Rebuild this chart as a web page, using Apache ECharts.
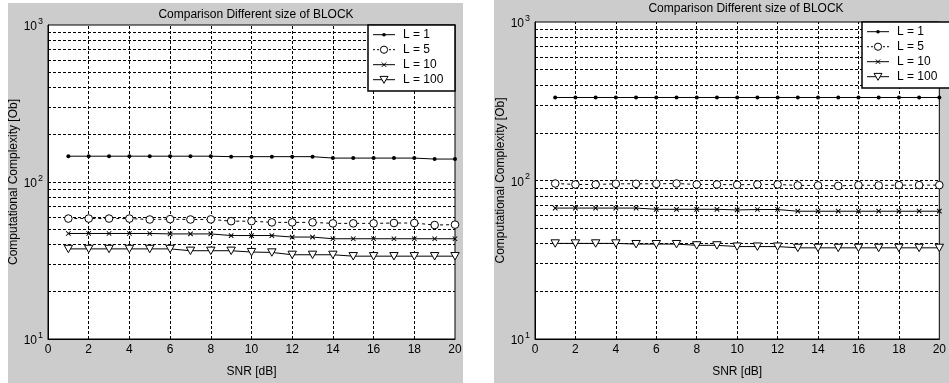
<!DOCTYPE html>
<html>
<head>
<meta charset="utf-8">
<script src="https://cdn.jsdelivr.net/npm/echarts@6/dist/echarts.min.js"></script>
<style>
  html, body { margin: 0; padding: 0; background: #fff; }
  #chart { width: 949px; height: 383px; }
</style>
</head>
<body>
<div id="chart"></div>
<script>
// SNR sweep (dB)
const snr = [1, 2, 3, 4, 5, 6, 7, 8, 9, 10, 11, 12, 13, 14, 15, 16, 17, 18, 19, 20];
const seriesNames = ['L = 1', 'L = 5', 'L = 10', 'L = 100'];

// Left panel: computational complexity per block size
const leftL1   = [146, 146, 146, 146, 146, 146, 146, 146, 145, 145, 145, 145, 145, 142, 142, 142, 142, 142, 140, 140];
const leftL5   = [58.5, 58.5, 58.5, 58.5, 57.7, 58, 57.7, 57.8, 56.3, 56.3, 55.3, 55.3, 55.3, 54.5, 54.5, 54.5, 54.8, 54.8, 53.2, 53.5];
const leftL10  = [47, 47, 47, 47, 47, 46.7, 46.7, 46.7, 45.6, 45.6, 45.6, 44.6, 44.6, 43.5, 43.5, 43.5, 43.5, 43.5, 43.5, 43.5];
const leftL100 = [37.5, 37.5, 37.5, 37.5, 37.5, 37.5, 36.5, 36.5, 36.5, 35.8, 35.6, 34.4, 34.4, 34.4, 33.7, 33.7, 33.7, 33.7, 33.7, 33.7];

// Right panel
const rightL1   = [334, 334, 334, 334, 334, 334, 334, 334, 334, 334, 334, 334, 334, 334, 334, 334, 334, 334, 334, 334];
const rightL5   = [95.7, 94.4, 94.4, 95.3, 95.3, 95.3, 95.7, 94.4, 94.4, 94, 94.4, 94.4, 93.1, 93.1, 92.5, 93.5, 93.1, 93.5, 93.5, 93.5];
const rightL10  = [67, 67, 67, 67, 67, 65.8, 65.8, 65.8, 65.8, 65.2, 65.6, 65.6, 64, 64, 64, 64, 64, 64, 64, 64];
const rightL100 = [40.1, 40.1, 40.1, 40.1, 39.7, 39.7, 39.7, 39, 39, 38.3, 38.3, 38.3, 37.6, 37.6, 37.6, 37.6, 37.6, 37.6, 37.6, 37.6];

// Grid lines: vertical at every x tick, horizontal at each log step
const xGrid = [2, 4, 6, 8, 10, 12, 14, 16, 18];
const yGrid = [20, 30, 40, 50, 60, 70, 80, 90, 100, 200, 300, 400, 500, 600, 700, 800, 900];

const titleText = 'Comparison Different size of BLOCK';
const xName = 'SNR [dB]';
const yName = 'Computational Complexity [Ob]';

const FONT = '"Liberation Sans", Arial, sans-serif';
const DASH = [3, 2];

// Markers drawn inside a 12x12 box
const SYM = {
  dot: 'path://M0,0M12,12M4,6a2,2 0 1,0 4,0a2,2 0 1,0 -4,0z',
  circle: 'path://M0,0M12,12M2.2,6a3.8,3.8 0 1,0 7.6,0a3.8,3.8 0 1,0 -7.6,0z',
  cross: 'path://M0,0M12,12M3.4,4.1L4.1,3.4L8.6,7.9L7.9,8.6z M7.9,3.4L8.6,4.1L4.1,8.6L3.4,7.9z',
  tri: 'path://M0,0M12,12M1.8,2.4L10.2,2.4L6,9.8z'
};

function pairs(ys) { return snr.map((x, i) => [x, ys[i]]); }

function makeSeries(idx, data) {
  const common = {
    type: 'line', xAxisIndex: idx, yAxisIndex: idx,
    symbolSize: 12, symbolKeepAspect: true, animation: false,
    silent: true, z: 3
  };
  return [
    Object.assign({}, common, {
      name: seriesNames[0], data: pairs(data[0]), symbol: SYM.dot,
      itemStyle: { color: '#000', borderWidth: 0 },
      lineStyle: { color: '#000', width: 1 }
    }),
    Object.assign({}, common, {
      name: seriesNames[1], data: pairs(data[1]), symbol: SYM.circle,
      itemStyle: { color: '#fff', borderColor: '#000', borderWidth: 1 },
      lineStyle: { color: '#000', width: 1, type: [3, 3] }
    }),
    Object.assign({}, common, {
      name: seriesNames[2], data: pairs(data[2]), symbol: SYM.cross,
      itemStyle: { color: '#000', borderWidth: 0 },
      lineStyle: { color: '#000', width: 1 }
    }),
    Object.assign({}, common, {
      name: seriesNames[3], data: pairs(data[3]), symbol: SYM.tri,
      itemStyle: { color: '#fff', borderColor: '#000', borderWidth: 1 },
      lineStyle: { color: '#000', width: 1 },
      markLine: {
        silent: true, symbol: 'none', animation: false, z: 1,
        label: { show: false },
        lineStyle: { color: '#000', width: 1, type: DASH },
        data: xGrid.map(v => ({ xAxis: v })).concat(yGrid.map(v => ({ yAxis: v })))
      }
    })
  ];
}

function yLabel(v) {
  const e = Math.round(Math.log10(v));
  return '{b|10}{e|' + e + '}';
}

const grids = [
  { left: 48, top: 25, width: 407, height: 322 },
  { left: 535, top: 22, width: 413, height: 325 }
];

function xAxis(idx) {
  return {
    type: 'value', gridIndex: idx, min: 0, max: 20, interval: 2,
    name: xName, nameLocation: 'middle', nameGap: 27,
    nameTextStyle: { fontFamily: FONT, fontSize: 12, color: '#000' },
    axisLine: { show: true, lineStyle: { color: '#000', width: 1 } },
    axisTick: { show: false },
    axisLabel: { fontFamily: FONT, fontSize: 12, color: '#000', margin: 5 },
    splitLine: { show: false }
  };
}

function yAxis(idx) {
  return {
    type: 'log', logBase: 10, gridIndex: idx, min: 10, max: 1000,
    name: yName, nameLocation: 'middle', nameGap: 27,
    nameTextStyle: { fontFamily: FONT, fontSize: 12, color: '#000' },
    axisLine: { show: true, lineStyle: { color: '#000', width: 1 } },
    axisTick: { show: false },
    axisLabel: {
      formatter: yLabel, margin: 5,
      rich: {
        b: { fontFamily: FONT, fontSize: 12, color: '#000', lineHeight: 16, verticalAlign: 'bottom' },
        e: { fontFamily: FONT, fontSize: 9, color: '#000', verticalAlign: 'top', padding: [0, 0, 0, 1] }
      }
    },
    splitLine: { show: false }
  };
}

// Legend box: a framed key with line sample, marker and label per series
function legendBox(x0, y0, w) {
  const els = [{
    type: 'rect', z: 100, silent: true,
    shape: { x: x0, y: y0, width: w, height: 66 },
    style: { fill: '#fff', stroke: '#000', lineWidth: 1.5 }
  }];
  const lx1 = x0 + 5, lx2 = x0 + 27, mx = x0 + 16;
  seriesNames.forEach((name, k) => {
    const cy = y0 + 9.7 + 15 * k;
    els.push({
      type: 'line', z: 101, silent: true,
      shape: { x1: lx1, y1: cy, x2: lx2, y2: cy },
      style: { stroke: '#000', lineWidth: 1, lineDash: k === 1 ? [2, 2] : null }
    });
    if (k === 0) {
      els.push({ type: 'circle', z: 102, silent: true, shape: { cx: mx, cy: cy, r: 1.8 }, style: { fill: '#000' } });
    } else if (k === 1) {
      els.push({ type: 'circle', z: 102, silent: true, shape: { cx: mx, cy: cy, r: 3.6 },
        style: { fill: '#fff', stroke: '#000', lineWidth: 1 } });
    } else if (k === 2) {
      els.push({ type: 'line', z: 102, silent: true, shape: { x1: mx - 2.2, y1: cy - 2.2, x2: mx + 2.2, y2: cy + 2.2 }, style: { stroke: '#000', lineWidth: 1 } });
      els.push({ type: 'line', z: 102, silent: true, shape: { x1: mx + 2.2, y1: cy - 2.2, x2: mx - 2.2, y2: cy + 2.2 }, style: { stroke: '#000', lineWidth: 1 } });
    } else {
      els.push({ type: 'polygon', z: 102, silent: true,
        shape: { points: [[mx - 4, cy - 3.3], [mx + 4, cy - 3.3], [mx, cy + 3.6]] },
        style: { fill: '#fff', stroke: '#000', lineWidth: 1 } });
    }
    els.push({
      type: 'text', z: 102, silent: true,
      style: { text: name, x: x0 + 35, y: cy, fill: '#000', font: '12px ' + FONT, align: 'left', verticalAlign: 'middle' }
    });
  });
  return els;
}

const chart = echarts.init(document.getElementById('chart'), null, { renderer: 'canvas' });
chart.setOption({
  backgroundColor: '#fff',
  animation: false,
  graphic: [
    { type: 'rect', z: -100, shape: { x: 8, y: 3, width: 455, height: 380 }, style: { fill: '#cccccc' }, silent: true },
    { type: 'rect', z: -100, shape: { x: 494, y: 0, width: 455, height: 383 }, style: { fill: '#cccccc' }, silent: true }
  ].concat(legendBox(368, 25, 87), legendBox(862, 22, 90)),
  title: [
    { text: titleText, left: 251, top: 4, textAlign: 'center',
      textStyle: { fontFamily: FONT, fontSize: 12, fontWeight: 'normal', color: '#000' } },
    { text: titleText, left: 741, top: -2, textAlign: 'center',
      textStyle: { fontFamily: FONT, fontSize: 12, fontWeight: 'normal', color: '#000' } }
  ],
  grid: grids.map(g => Object.assign({ show: true, backgroundColor: '#fff', borderColor: '#000', borderWidth: 1 }, g)),
  xAxis: [xAxis(0), xAxis(1)],
  yAxis: [yAxis(0), yAxis(1)],
  series: makeSeries(0, [leftL1, leftL5, leftL10, leftL100])
    .concat(makeSeries(1, [rightL1, rightL5, rightL10, rightL100]))
});
</script>
</body>
</html>
